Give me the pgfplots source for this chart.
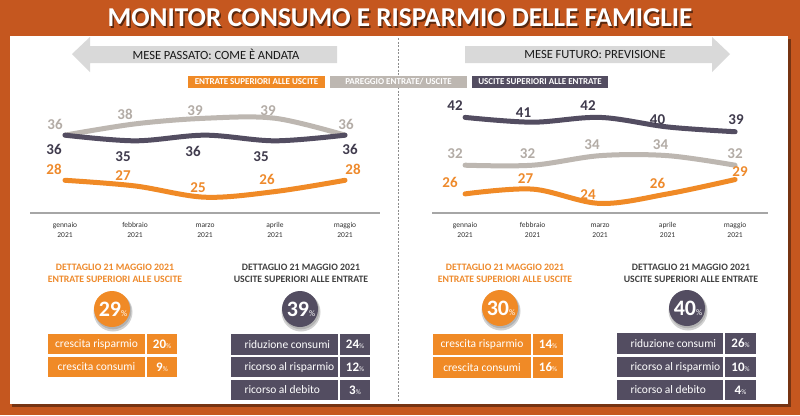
\documentclass[border=0pt]{standalone}
\usepackage{pgfplots}
\pgfplotsset{compat=1.18}
\usepackage{pgfplotstable}
\usepackage{fontspec}
\setmainfont{Carlito}
\definecolor{bg}{HTML}{C5571F}
\definecolor{org}{HTML}{F08A26}
\definecolor{orgtxt}{HTML}{EE8A2C}
\definecolor{gry}{HTML}{BDB7B1}
\definecolor{grytxt}{HTML}{B3ACA6}
\definecolor{pur}{HTML}{534D61}
\definecolor{purtxt}{HTML}{403B4D}
\definecolor{arr}{HTML}{D9D9D9}
\newcommand{\fs}[1]{\fontsize{#1bp}{#1bp}\selectfont}

\pgfplotstableread{
x y dx dy
0 36 -10 11
1 38 -10 10
2 39 -10 8
3 39 -7 8
4 36 1 11
}\Lgrey
\pgfplotstableread{
x y dx dy
0 36 -11 -14
1 35 -12 -16
2 36 -12 -16
3 35 -14 -16
4 36 5 -14
}\Lpur
\pgfplotstableread{
x y dx dy
0 28 -11 11
1 27 -12 10
2 25 -7 10
3 26 -8 12
4 28 8 11
}\Lorg
\pgfplotstableread{
x y dx dy
0 42 -10 12
1 41 -9 10
2 42 -12 12
3 40 -10 7
4 39 1 12
}\Rpur
\pgfplotstableread{
x y dx dy
0 32 -10 12
1 32 -5 12
2 34 -8 11
3 34 -7 11
4 32 0 12
}\Rgrey
\pgfplotstableread{
x y dx dy
0 26 -15 11
1 27 -7 11
2 24 -12 9
3 26 -10 10
4 29 5 8
}\Rorg

\pgfplotsset{
  monthaxis/.style={
    anchor=south west, clip=false,
    /pgf/number format/assume math mode=true,
    axis y line=none, axis x line*=bottom,
    x axis line style={draw=black!35, line width=1.5bp},
    xtick={0,1,2,3,4},
    xticklabels={{\strut gennaio\\\strut 2021},{\strut febbraio\\\strut 2021},{\strut marzo\\\strut 2021},{\strut aprile\\\strut 2021},{\strut maggio\\\strut 2021}},
    xticklabel style={align=center, font=\fontsize{7.5bp}{10bp}\selectfont, text=black!80, anchor=north, yshift=-7bp, inner sep=0pt},
    major tick length=0pt,
    xmin=-0.5, xmax=4.5,
  },
  curve/.style={smooth, tension=0.55, mark=none, line width=5bp, line cap=round, draw=#1},
  lab/.style={
    nodes near coords,
    visualization depends on={\thisrow{dx}\as\dx},
    visualization depends on={\thisrow{dy}\as\dy},
    nodes near coords style={anchor=center, xshift=\dx bp, yshift=\dy bp, font=\bfseries\fs{15}, text=#1, inner sep=0pt},
  },
}

\begin{document}
\begin{tikzpicture}
\begin{scope}[x=1bp,y=-1bp]
\path[use as bounding box] (0,0) rectangle (800,415);
\fill[bg] (0,0) rectangle (800,415);
\fill[black!40!bg] (12,39) rectangle (791,407);
\fill[white] (10,36) rectangle (788,404);
% title
\node[font=\bfseries\fs{27.2}, text=black!55!bg] at (401.5,19.5) {MONITOR CONSUMO E RISPARMIO DELLE FAMIGLIE};
\node[font=\bfseries\fs{27.2}, text=white] at (400,18) {MONITOR CONSUMO E RISPARMIO DELLE FAMIGLIE};
% divider
\draw[black!45, line width=0.8bp, dash pattern=on 2bp off 1.5bp] (398,38) -- (398,402);
% arrows
\fill[arr] (72,54) -- (90,37) -- (90,46) -- (337,46) -- (337,63) -- (90,63) -- (90,72) -- cycle;
\node[font=\fs{12.5}, text=black!90] at (216,54) {MESE PASSATO: COME È ANDATA};
\fill[arr] (465,46) -- (712,46) -- (712,37) -- (730,54) -- (712,72) -- (712,63) -- (465,63) -- cycle;
\node[font=\fs{12.5}, text=black!90] at (595,54) {MESE FUTURO: PREVISIONE};
% legend
\fill[org] (188,76) rectangle (325,88);
\node[font=\bfseries\fs{9}, text=white] at (256.5,82) {ENTRATE SUPERIORI ALLE USCITE};
\fill[gry] (330,76) rectangle (467,88);
\node[font=\bfseries\fs{9}, text=white] at (398.5,82) {PAREGGIO ENTRATE/ USCITE};
\fill[pur] (472,76) rectangle (608,88);
\node[font=\bfseries\fs{9}, text=white] at (540,82) {USCITE SUPERIORI ALLE ENTRATE};

% ---- detail headers
\node[font=\bfseries\fs{9.8}, text=orgtxt, align=center] at (115,273) {DETTAGLIO 21 MAGGIO 2021\\[2.5bp]ENTRATE SUPERIORI ALLE USCITE};
\node[font=\bfseries\fs{9.8}, text=black!75, align=center] at (301,273) {DETTAGLIO 21 MAGGIO 2021\\[2.5bp]USCITE SUPERIORI ALLE ENTRATE};
\node[font=\bfseries\fs{9.8}, text=orgtxt, align=center] at (505,273) {DETTAGLIO 21 MAGGIO 2021\\[2.5bp]ENTRATE SUPERIORI ALLE USCITE};
\node[font=\bfseries\fs{9.8}, text=black!75, align=center] at (691,273) {DETTAGLIO 21 MAGGIO 2021\\[2.5bp]USCITE SUPERIORI ALLE ENTRATE};

% ---- circles
\foreach \cx/\cy/\cc/\tt in {112/309/org/29, 300/309/pur/39, 500/308/org/30, 687/308/pur/40}{
  \fill[black!18] (\cx+1,\cy+3) circle (19.5);
  \fill[black!30] (\cx+1,\cy+2) circle (18.3);
  \fill[\cc] (\cx,\cy) circle (18);
  \node[text=white, inner sep=0pt] at (\cx+1,\cy) {{\bfseries\fs{22}\tt}{\fs{8.5}\%}};
}

% ---- rows
\newcommand{\orow}[7]{%
  \fill[org] (#1,#5) rectangle (#2,#6);
  \fill[org] (#3,#5) rectangle (#4,#6);
  \node[text=white, font=\fs{11.5}] at ({(#1+#2)/2},{(#5+#6)/2}) {#7};
}
\newcommand{\val}[5]{\node[text=white, inner sep=0pt] at ({(#1+#2)/2},{(#3+#4)/2}) {{\bfseries\fs{13}#5}{\fs{7}\%}};}
\newcommand{\prow}[7]{%
  \fill[pur] (#1,#5) rectangle (#2,#6);
  \fill[pur] (#3,#5) rectangle (#4,#6);
  \node[text=white, font=\fs{11.5}, anchor=west] at ({#1+10},{(#5+#6)/2}) {#7};
}
% left orange
\orow{48}{145}{147}{177}{334}{354}{crescita risparmio}\val{147}{177}{334}{354}{20}
\orow{48}{145}{147}{177}{357}{377}{crescita consumi}\val{147}{177}{357}{377}{9}
% left purple
\prow{231}{338}{340}{370}{334}{355}{riduzione consumi}\val{340}{370}{334}{355}{24}
\prow{231}{338}{340}{370}{357}{377}{ricorso al risparmio}\val{340}{370}{357}{377}{12}
\prow{231}{338}{340}{370}{380}{400}{ricorso al debito}\val{340}{370}{380}{400}{3}
% right orange
\orow{433}{531}{533}{563}{334}{355}{crescita risparmio}\val{533}{563}{334}{355}{14}
\orow{433}{531}{533}{563}{357}{378}{crescita consumi}\val{533}{563}{357}{378}{16}
% right purple
\prow{617}{723}{725}{756}{333}{354}{riduzione consumi}\val{725}{756}{333}{354}{26}
\prow{617}{723}{725}{756}{357}{377}{ricorso al risparmio}\val{725}{756}{357}{377}{10}
\prow{617}{723}{725}{756}{380}{400}{ricorso al debito}\val{725}{756}{380}{400}{4}
\end{scope}

% ---- left chart
\begin{axis}[monthaxis, at={(30bp,-213bp)}, x=70bp, y=5.64bp, ymin=22.2, ymax=42.2]
\addplot[curve=gry, lab=grytxt] table[x=x,y=y] {\Lgrey};
\addplot[curve=pur, lab=purtxt] table[x=x,y=y] {\Lpur};
\addplot[curve=org, lab=orgtxt] table[x=x,y=y] {\Lorg};
\end{axis}
% ---- right chart
\begin{axis}[monthaxis, at={(432bp,-213bp)}, x=67.5bp, y=4.78bp, xmin=-0.49, xmax=4.49, ymin=22, ymax=45.6]
\addplot[curve=gry, lab=grytxt] table[x=x,y=y] {\Rgrey};
\addplot[curve=pur, lab=purtxt] table[x=x,y=y] {\Rpur};
\addplot[curve=org, lab=orgtxt] table[x=x,y=y] {\Rorg};
\end{axis}
\end{tikzpicture}
\end{document}
